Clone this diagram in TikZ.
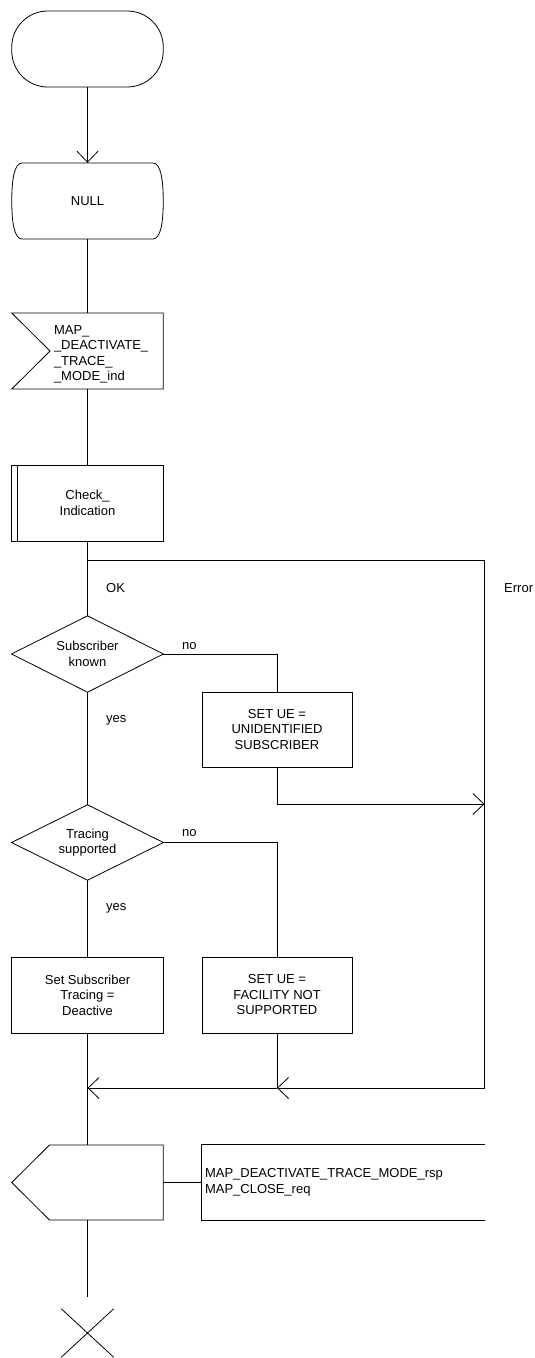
\documentclass[tikz,border=0pt]{standalone}
\usepackage{fontspec}
\setmainfont{Liberation Sans}
\usetikzlibrary{arrows.meta}
\begin{document}
\begin{tikzpicture}[x=1pt,y=-1pt,
  every node/.style={font=\fontsize{13pt}{15.5pt}\selectfont, text=black},
  flow/.style={line width=0.8pt, draw=black},
  arr/.style={flow, -{Straight Barb[length=11pt,width=21pt]}},
  shapebox/.style={rectangle, minimum width=151.5pt, minimum height=76pt, inner sep=0pt, align=center},
  taskbox/.style={shapebox, draw, line width=0.8pt},
  lbl/.style={anchor=west, inner sep=0pt}
]
\useasboundingbox (0,0) rectangle (535,1358);

% start
\node[shapebox, draw, line width=0.8pt, rounded corners=36pt] (start) at (87.5,49) {};
% NULL state
\node[shapebox] (null) at (87.5,201) {NULL};
\draw[flow, shift={(null.center)}] (-65.5,-38) -- (65.5,-38)
  .. controls (73,-38) and (75.75,-22) .. (75.75,0)
  .. controls (75.75,22) and (73,38) .. (65.5,38) -- (-65.5,38)
  .. controls (-73,38) and (-75.75,22) .. (-75.75,0)
  .. controls (-75.75,-22) and (-73,-38) .. (-65.5,-38) -- cycle;
% input
\node[shapebox, label={[anchor=west, align=left, inner sep=0pt, label distance=0pt, xshift=42.25pt, yshift=-3.5pt]west:{MAP\_\\\_DEACTIVATE\_\\\_TRACE\_\\\_MODE\_ind}}] (inp) at (87.5,351) {};
\draw[flow, shift={(inp.center)}] (-75.75,-38) -- (75.75,-38) -- (75.75,38) -- (-75.75,38) -- (-37.5,0) -- cycle;
% procedure
\node[taskbox] (proc) at (87.5,503) {Check\_\\Indication};
\draw[flow] ([xshift=6.5pt]proc.north west) -- ([xshift=6.5pt]proc.south west);
% decisions
\node[shapebox] (d1) at (87.5,654) {Subscriber\\known};
\draw[flow] (d1.north) -- (d1.east) -- (d1.south) -- (d1.west) -- cycle;
\node[shapebox, minimum height=75pt] (d2) at (87.5,842.5) {Tracing\\supported};
\draw[flow] (d2.north) -- (d2.east) -- (d2.south) -- (d2.west) -- cycle;
% tasks
\node[taskbox, minimum width=150pt, minimum height=75pt] (set1) at (277,729.5) {SET UE =\\UNIDENTIFIED\\SUBSCRIBER};
\node[taskbox] (set3) at (87.5,995) {Set Subscriber\\Tracing =\\Deactive};
\node[taskbox, minimum width=150pt] (set2) at (277,995) {SET UE =\\FACILITY NOT\\SUPPORTED};
% output
\node[shapebox, minimum height=75pt] (out) at (87.5,1182.5) {};
\draw[flow, shift={(out.center)}] (-38,-37.5) -- (75.75,-37.5) -- (75.75,37.5) -- (-38,37.5) -- (-75.75,0) -- cycle;
\node[rectangle, minimum width=282.5pt, minimum height=75pt, inner xsep=3pt, inner ysep=0pt, text width=276.5pt, align=left] (cmt) at (343.25,1182.5) {MAP\_DEACTIVATE\_TRACE\_MODE\_rsp\\MAP\_CLOSE\_req};
\draw[flow] (cmt.north east) -- (cmt.north west) -- (cmt.south west) -- (cmt.south east);
% stop
\node[rectangle, minimum width=52pt, minimum height=48pt, inner sep=0pt] (stop) at (87.5,1333) {};
\draw[flow] (stop.north west) -- (stop.south east) (stop.north east) -- (stop.south west);

% labels
\node[lbl] (ok) at (106,588) {OK};
\node[lbl] (err) at (504,588) {Error};
\node[lbl] (no1) at (182,646) {no};
\node[lbl] (yes1) at (106,720) {yes};
\node[lbl] (no2) at (182,833) {no};
\node[lbl] (yes2) at (106,908) {yes};

% coordinates
\coordinate (split) at (87.5,560);
\coordinate (errbot) at (484.5,1088);
\coordinate (rt) at (484.5,804);
\coordinate (m2) at (277,1088);
\coordinate (m1) at (87.5,1088);

% connectors
\draw[arr] (start.south) -- (null.north);
\draw[flow] (null.south) -- (inp.north);
\draw[flow] (inp.south) -- (proc.north);
\draw[flow] (proc.south) -- (d1.north);
\draw[flow] (split) -| (errbot);
\draw[arr] (errbot) -- (m2);
\draw[arr] (m2) -- (m1);
\draw[flow] (d1.east) -| (set1.north);
\draw[arr] (set1.south) |- (rt);
\draw[flow] (d1.south) -- (d2.north);
\draw[flow] (d2.east) -| (set2.north);
\draw[flow] (d2.south) -- (set3.north);
\draw[flow] (set2.south) -- (m2);
\draw[flow] (set3.south) -- (out.north);
\draw[flow] (out.east) -- (cmt.west);
\draw[flow, shorten >=12pt] (out.south) -- (stop.north);
\end{tikzpicture}
\end{document}
